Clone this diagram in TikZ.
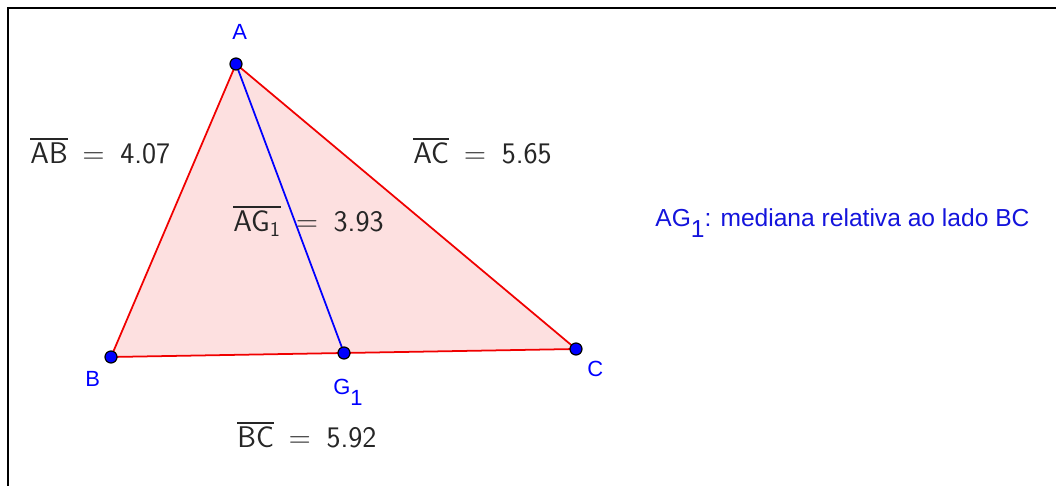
\documentclass[tikz,border=0pt]{standalone}
\usepackage{amsmath}
\usepackage{fontspec}
\newfontfamily\labelfont{Liberation Sans}
\usepackage{tikz}
\definecolor{ggred}{RGB}{240,0,0}
\definecolor{ggblue}{RGB}{0,0,255}
\definecolor{ggtext}{RGB}{20,20,220}
\newcommand{\lowone}{\raisebox{-6pt}{1}}
\newcommand{\seglen}[2]{$\overline{#1}$\hspace{8.5pt}$=$\hspace{9pt}#2}
\tikzset{
  pt/.style={fill=ggblue,draw=black,line width=0.7pt},
  lbl/.style={font=\labelfont\fontsize{12.5}{15}\selectfont,text=ggblue,inner sep=0pt,anchor=base west},
  msr/.style={font=\sffamily\fontsize{17}{20}\selectfont,text=black!85,inner sep=0pt,anchor=base west}
}
\begin{document}
\begin{tikzpicture}[x=0.02cm,y=-0.02cm]
{
\useasboundingbox (0,0) rectangle (1056,486);
\draw[line width=1.2pt] (8,486)--(8,8)--(1056,8);
%
\coordinate (A) at (236,64);
\coordinate (B) at (111,357);
\coordinate (C) at (576,349);
\coordinate (G1) at (344,353);
\fill[ggred,opacity=0.12] (A)--(B)--(C)--cycle;
\draw[ggred,line width=1pt] (A)--(B)--(C)--cycle;
\draw[ggblue,line width=1pt] (A)--(G1);
\foreach \p in {A,B,C,G1}{
\filldraw[pt] (\p) circle (6);
}
%
\node[lbl] (lA) at (232,40) {A};
\node[lbl] (lB) at (85,387) {B};
\node[lbl] (lC) at (587,377) {C};
\node[lbl] (lG) at (333,395) {G\lowone};
\node[msr] (mAB) at (30,164) {\seglen{\textsf{AB}}{4.07}};
\node[msr] (mAC) at (413,164) {\seglen{\textsf{AC}}{5.65}};
\node[msr] (mAG) at (233,232) {\seglen{\textsf{AG}_{\textsf{1}}}{3.93}};
\node[msr] (mBC) at (237,448) {\seglen{\textsf{BC}}{5.92}};
\node[lbl,text=ggtext,font=\labelfont\fontsize{14}{16}\selectfont] (med) at (655,227) {AG\lowone: mediana relativa ao lado BC};
}
\end{tikzpicture}
\end{document}
